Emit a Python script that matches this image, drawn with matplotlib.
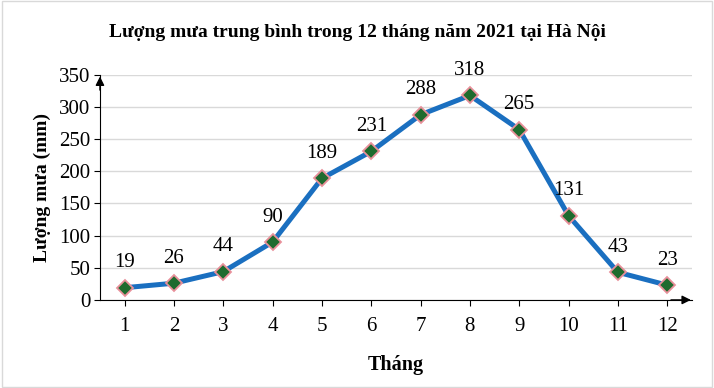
import matplotlib.pyplot as plt
from matplotlib.patches import Rectangle

months = [1, 2, 3, 4, 5, 6, 7, 8, 9, 10, 11, 12]
rainfall = [19, 26, 44, 90, 189, 231, 288, 318, 265, 131, 43, 23]
yticks = [0, 50, 100, 150, 200, 250, 300, 350]

plt.rcParams['font.family'] = ['Liberation Serif', 'DejaVu Serif']

fig = plt.figure(figsize=(7.14, 3.88), dpi=100)
ax = fig.add_axes([0.140, 0.227, 0.829, 0.580])

# light border round the whole picture
fig.patches.append(Rectangle((0.003, 0.003), 0.994, 0.994, transform=fig.transFigure,
                             fill=False, edgecolor='#d9d9d9', linewidth=1))

ax.plot(months, rainfall, color='#1a6fc0', linewidth=3.6, marker='D', markersize=8,
        markerfacecolor='#1e6b2e', markeredgecolor='#e8909a', markeredgewidth=1.3, zorder=3)

for m, v in zip(months, rainfall):
    ax.annotate(str(v), (m, v), xytext=(0, 11), textcoords='offset points',
                ha='center', va='bottom', fontsize=15)

ax.set_xlim(0.5, 12.5)
ax.set_ylim(0, 350)
ax.set_xticks(months)
ax.set_yticks(yticks)
ax.tick_params(axis='both', labelsize=15, length=4, direction='out')
ax.tick_params(axis='x', pad=8)
ax.tick_params(axis='y', pad=3)
ax.grid(axis='y', color='#d9d9d9', linewidth=1)
ax.set_axisbelow(True)

for s in ['top', 'right']:
    ax.spines[s].set_visible(False)
ax.spines['left'].set_color('black')
ax.spines['bottom'].set_color('black')

# arrows at the axis ends
ax.annotate('', xy=(0, 1.005), xycoords='axes fraction', xytext=(0, 0.92),
            arrowprops=dict(arrowstyle='-|>', color='black', lw=1, mutation_scale=13),
            annotation_clip=False)
ax.annotate('', xy=(1.003, 0), xycoords='axes fraction', xytext=(0.96, 0),
            arrowprops=dict(arrowstyle='-|>', color='black', lw=1, mutation_scale=13),
            annotation_clip=False)

ax.set_xlabel('Tháng', fontsize=14.5, fontweight='bold', labelpad=14)
ax.set_ylabel('Lượng mưa (mm)', fontsize=14, fontweight='bold', labelpad=6)
fig.text(0.5, 0.915, 'Lượng mưa trung bình trong 12 tháng năm 2021 tại Hà Nội',
         ha='center', va='center', fontsize=14, fontweight='bold')

fig.savefig('out.png', dpi=100)
